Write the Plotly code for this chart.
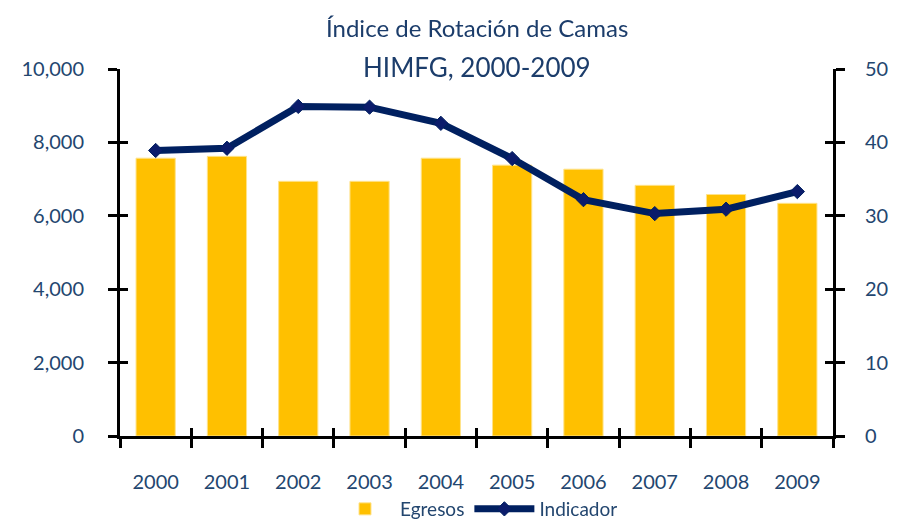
import plotly.graph_objects as go

years = ["2000", "2001", "2002", "2003", "2004", "2005", "2006", "2007", "2008", "2009"]
egresos = [7570, 7620, 6940, 6940, 7570, 7380, 7270, 6830, 6580, 6340]
indicador = [38.9, 39.2, 44.9, 44.8, 42.6, 37.8, 32.2, 30.3, 30.9, 33.3]
left_ticks = [0, 2000, 4000, 6000, 8000, 10000]
right_ticks = [0, 10, 20, 30, 40, 50]

FONT = "Lato"
TXT = "#23466F"
NAVY = "#002060"
GOLD = "#FFC000"

fig = go.Figure()
fig.add_trace(go.Bar(
    x=years, y=egresos, name="Egresos",
    marker=dict(color=GOLD, line=dict(color="#FFE38A", width=1)),
    width=0.55, xaxis="x", yaxis="y",
))
fig.add_trace(go.Scatter(
    x=years, y=indicador, name="Indicador", mode="lines+markers",
    line=dict(color=NAVY, width=7),
    marker=dict(symbol="diamond", size=11, color="#0B1C6B", line=dict(color=NAVY, width=1)),
    xaxis="x", yaxis="y2",
))
# invisible helper traces so the overlay axes (inside tick halves) render
fig.add_trace(go.Scatter(x=years, y=egresos, mode="markers", opacity=0,
                         showlegend=False, hoverinfo="skip", xaxis="x3", yaxis="y3"))
fig.add_trace(go.Scatter(x=years, y=indicador, mode="markers", opacity=0,
                         showlegend=False, hoverinfo="skip", xaxis="x3", yaxis="y4"))

tickfont = dict(family=FONT, size=20, color=TXT)
axline = dict(showline=True, linecolor="black", linewidth=3, tickcolor="black",
              tickwidth=3, showgrid=False, zeroline=False, automargin=False)

fig.update_layout(
    width=899, height=523,
    margin=dict(l=120, r=66, t=69, b=87),
    paper_bgcolor="white", plot_bgcolor="white",
    bargap=0.45,
    showlegend=True,
    legend=dict(orientation="h", x=0.5, xanchor="center", yref="container",
                y=1 - 509 / 523, yanchor="middle", bgcolor="rgba(0,0,0,0)",
                font=dict(family=FONT, size=19, color=TXT), itemwidth=60,
                traceorder="normal"),
    xaxis=dict(type="category", categoryorder="array", categoryarray=years,
               range=[-0.5, 9.5], tickson="boundaries", ticks="outside", ticklen=9,
               tickfont=tickfont, ticklabelstandoff=26, **axline),
    xaxis3=dict(type="category", categoryorder="array", categoryarray=years,
                range=[-0.5, 9.5], tickson="boundaries", ticks="inside", ticklen=8,
                showticklabels=False, overlaying="x", **axline),
    yaxis=dict(range=[0, 10000], tickvals=left_ticks, tickformat=",d", ticks="outside",
               ticklen=9, tickfont=tickfont, ticklabelstandoff=20, **axline),
    yaxis3=dict(range=[0, 10000], tickvals=left_ticks, ticks="inside", ticklen=8,
                showticklabels=False, overlaying="y", side="left", **axline),
    yaxis2=dict(range=[0, 50], tickvals=right_ticks, ticks="outside", ticklen=9,
                overlaying="y", side="right", tickfont=tickfont, ticklabelstandoff=16,
                **axline),
    yaxis4=dict(range=[0, 50], tickvals=right_ticks, ticks="inside", ticklen=8,
                showticklabels=False, overlaying="y", side="right", **axline),
    annotations=[
        dict(text="Índice de Rotación de Camas", xref="paper", yref="paper",
             x=0.5, y=1 + (69 - 27) / 367, xanchor="center", yanchor="middle",
             showarrow=False, font=dict(family=FONT, size=24, color="#1C3D6B")),
        dict(text="HIMFG, 2000-2009", xref="paper", yref="paper",
             x=0.5, y=1 + (69 - 67) / 367, xanchor="center", yanchor="middle",
             showarrow=False, font=dict(family=FONT, size=26, color="#1C3D6B")),
    ],
)

fig.write_html("out.html", config={"displayModeBar": False},
               post_script="document.body.style.margin='0';")
